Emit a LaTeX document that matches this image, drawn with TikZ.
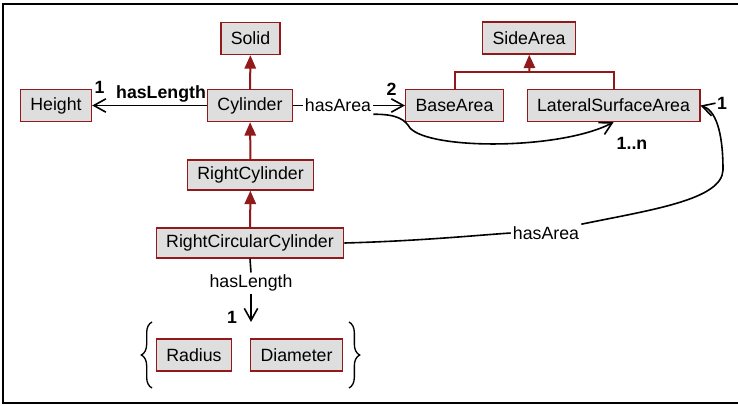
\documentclass[tikz,border=0pt]{standalone}
\usepackage{fontspec}
\setmainfont{Liberation Sans}
\usetikzlibrary{arrows.meta,decorations.pathreplacing}
\definecolor{boxred}{RGB}{145,25,25}
\definecolor{boxfill}{RGB}{222,222,222}
\begin{document}
\begin{tikzpicture}[x=0.75pt,y=-0.75pt,
  font=\fontsize{13.3}{15}\selectfont,
  cls/.style={draw=boxred, fill=boxfill, line width=1.1pt, minimum height=24pt, inner xsep=7.4pt, inner ysep=0pt},
  clsb/.style={cls, minimum height=22.5pt},
  genline/.style={draw=boxred, line width=1.5pt},
  gen/.style={genline, -{Triangle[length=10pt,width=8.5pt]}},
  assoc/.style={draw=black, line width=1.2pt},
  openarr/.style={-{Straight Barb[length=9pt,width=10pt]}},
  mult/.style={font=\fontsize{13.3}{15}\selectfont\bfseries, inner sep=1pt},
  lbl/.style={inner sep=1.5pt},
  bracestyle/.style={draw=black, line width=1pt, decorate, decoration={brace, amplitude=8pt, aspect=0.5}}]
\useasboundingbox (0,0) rectangle (738,406);
\draw[line width=0.8pt] (739,4) -- (3,4) -- (3,403) -- (739,403);

% classes
\node[cls] (solid) at (250.5,38.5) {Solid};
\node[cls] (cyl) at (250,105.5) {Cylinder};
\node[cls] (height) at (56,105.5) {Height};
\node[cls] (side) at (529,38) {SideArea};
\node[cls] (base) at (454.5,105.5) {BaseArea};
\node[cls] (lsa) at (613.5,105.5) {LateralSurfaceArea};
\node[clsb] (rc) at (250.5,175) {RightCylinder};
\node[clsb] (rcc) at (250,243) {RightCircularCylinder};
\node[cls] (rad) at (194,355) {Radius};
\node[cls] (dia) at (296.5,355) {Diameter};

% generalizations
\draw[gen] (cyl) -- (solid);
\draw[gen] (rc) -- (cyl);
\draw[gen] (rcc) -- (rc);
\coordinate (j) at (529.5,72);
\draw[genline] (base.north) |- (j) -| (lsa.north);
\draw[gen] (j) -- (side);

% Cylinder hasLength Height
\draw[assoc, openarr] (cyl.west) -- node[pos=0.4, above, mult, inner sep=2pt] (hl1) {hasLength} (height.east);
\node[mult] (m1) at (99.5,87) {1};

% Cylinder hasArea BaseArea
\node[lbl] (ha1) at (338,105.5) {hasArea};
\draw[assoc] (cyl.east) -- (ha1.west);
\draw[assoc, openarr] (ha1.east) -- (base.west);
\node[mult] (m2) at (391.5,89) {2};
\draw[assoc, openarr] (ha1.south east) .. controls (398,114) and (405,120) .. (410,128)
  .. controls (430,150) and (560,150) .. (lsa.south);
\node[mult] (m3) at (632,143) {1..n};

% RightCircularCylinder hasArea LateralSurfaceArea
\node[lbl] (ha2) at (546,233) {hasArea};
\draw[assoc] (rcc.east) .. controls (420,241) and (480,235) .. (ha2.west);
\draw[assoc, openarr] (ha2.north east) .. controls (650,210) and (722,200) .. (723,170)
  .. controls (723,130) and (715,110) .. (lsa.east);
\node[mult] (m4) at (722,103) {1};

% RightCircularCylinder hasLength {Radius, Diameter}
\node[lbl] (hl2) at (251,283) {hasLength};
\coordinate (grp) at (251,322);
\draw[assoc] (rcc.south) -- (hl2.north);
\draw[assoc, openarr] (hl2.south) -- (grp);
\node[mult] (m5) at (232,317) {1};
\draw[bracestyle] (152,388) -- (152,322);
\draw[bracestyle] (349,322) -- (349,388);
\end{tikzpicture}
\end{document}
